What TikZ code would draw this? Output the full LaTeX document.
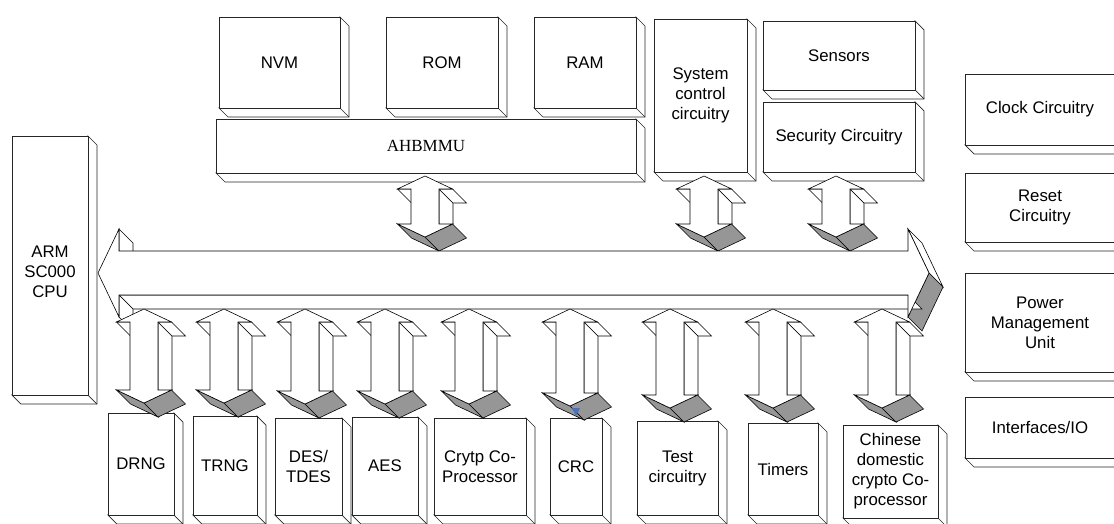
\documentclass[tikz,border=0pt]{standalone}
\usepackage{fontspec}
\setmainfont{Liberation Sans}
\newfontfamily\busfont{Liberation Serif}
\usetikzlibrary{positioning}
\usetikzlibrary{calc}

\definecolor{facegray}{RGB}{150,150,150}
\definecolor{markblue}{RGB}{68,114,196}

\tikzset{
  boxline/.style={draw=black!85, line width=0.7pt, fill=white, line join=miter},
  boxface/.style={boxline, inner sep=0pt, outer sep=0pt, align=center,
    font=\fontsize{16.8}{20}\selectfont},
  boxtext/.style={inner sep=0pt, align=center, font=\fontsize{16.8}{20}\selectfont},
  arrowline/.style={draw=black, line width=0.6pt, line join=miter},
}

% 3D block: name, left, top, right, bottom, text
\newcommand{\unitbox}[6]{%
  \draw[boxline] (#4,#3) -- ++(9,9) -- ({#4+9},{#5+9}) -- ({#2+9},{#5+9}) -- (#2,#5) -- (#4,#5) -- cycle;
  \draw[boxline] (#4,#5) -- ++(9,9);
  \node[boxface, minimum width={(#4-#2)*1pt}, minimum height={(#5-#3)*1pt}] (#1) at ({(#2+#4)/2},{(#3+#5)/2}) {#6};
}

% 3D up/down block arrow: centre x, top tip, bottom tip
\newcommand{\dblarrow}[3]{%
  \draw[arrowline, fill=white] ({#1+14},{#2+13}) -- ({#1+14},{#3-13}) -- ({#1+28},{#3+1}) -- ({#1+28},{#2+27}) -- cycle;
  \draw[arrowline, fill=white] ({#1+14},{#2+13}) -- ({#1+27.5},{#2+13}) -- ({#1+41.5},{#2+27}) -- ({#1+28},{#2+27}) -- cycle;
  \draw[arrowline, fill=white] ({#1-27.5},{#2+13}) -- ({#1-14},{#2+13}) -- (#1,{#2+27}) -- ({#1-13.5},{#2+27}) -- cycle;
  \draw[arrowline, fill=facegray] ({#1-27.5},{#3-13}) -- (#1,#3) -- ({#1+14},{#3+14}) -- ({#1-13.5},{#3+1}) -- cycle;
  \draw[arrowline, fill=facegray] ({#1+27.5},{#3-13}) -- (#1,#3) -- ({#1+14},{#3+14}) -- ({#1+41.5},{#3+1}) -- cycle;
  \draw[arrowline, fill=white] (#1,#2) -- ++(27.5,13) -- ++(-13.5,0) -- ({#1+14},{#3-13}) -- ++(13.5,0)
    -- (#1,#3) -- ++(-27.5,-13) -- ++(13.5,0) -- ({#1-14},{#2+13}) -- ++(-13.5,0) -- cycle;
}

\begin{document}
\begin{tikzpicture}[x=1pt, y=-1pt]
  \useasboundingbox (0,0) rectangle (1114,523);
  \fill[white] (0,0) rectangle (1114,523);

  % memories and AHB
  \unitbox{nvm}{219}{17}{340}{108}{NVM}
  \unitbox{rom}{386}{17}{498}{108}{ROM}
  \unitbox{ram}{534}{17}{636}{108}{RAM}
  \unitbox{ahb}{216}{119}{636}{173}{{\busfont\fontsize{17}{20}\selectfont AHBMMU}}
  \unitbox{sysctl}{654}{19}{747}{172}{System\\control\\circuitry}
  \unitbox{sensors}{763}{21}{915}{90}{Sensors}
  \unitbox{security}{763}{102}{915}{172}{Security Circuitry}

  % right column
  \unitbox{clock}{965}{74}{1115}{145}{Clock Circuitry}
  \unitbox{reset}{965}{173}{1115}{242}{Reset\\Circuitry}
  \unitbox{power}{965}{273}{1115}{372}{Power\\Management\\Unit}
  \unitbox{io}{965}{397}{1115}{458}{Interfaces/IO}

  % CPU
  \unitbox{cpu}{12}{136}{88}{395}{}
  \node[boxtext, below=-20pt of cpu.center] (cpulabel) {ARM\\SC000\\CPU};

  % peripherals
  \unitbox{drng}{108}{413}{174}{515}{DRNG}
  \unitbox{trng}{193}{416}{257}{515}{TRNG}
  \unitbox{des}{275}{418}{342}{515}{DES/\\TDES}
  \unitbox{aes}{352}{417}{418}{515}{AES}
  \unitbox{copro}{434}{418}{526}{515}{Crytp Co-\\Processor}
  \unitbox{crc}{550}{418}{602}{515}{CRC}
  \unitbox{test}{637}{421}{718}{515}{Test\\circuitry}
  \unitbox{timers}{748}{423}{818}{515}{Timers}
  \unitbox{gmcopro}{843}{425}{938}{518}{Chinese\\domestic\\crypto Co-\\processor}

  % links to AHB and control blocks
  \dblarrow{425}{176}{237}
  \dblarrow{704}{176}{237}
  \dblarrow{836}{176}{237}

  % system bus
  \draw[arrowline, fill=white] (119,229) -- (133,243) -- (133,265) -- (119,251) -- cycle;
  \draw[arrowline, fill=white] (908,229) -- (922,243) -- (943,287) -- (929,273) -- cycle;
  \draw[arrowline, fill=facegray] (929,273) -- (943,287) -- (922,331) -- (908,317) -- cycle;
  \draw[arrowline, fill=white] (119,295) -- (908,295) -- (922,309) -- (133,309) -- cycle;
  \draw[arrowline, fill=white] (119,295) -- (119,317) -- (133,331) -- (133,309) -- cycle;
  \draw[arrowline, fill=white] (98,273) -- (119,229) -- (119,251) -- (908,251) -- (908,229) -- (929,273)
    -- (908,317) -- (908,295) -- (119,295) -- (119,317) -- cycle;

  % links to peripherals
  \dblarrow{144}{309}{403}
  \dblarrow{224}{309}{403}
  \dblarrow{305}{309}{404}
  \dblarrow{385}{309}{404}
  \dblarrow{469}{309}{404}
  \dblarrow{570}{309}{406}
  \dblarrow{670}{309}{408}
  \dblarrow{773}{309}{408}
  \dblarrow{882}{309}{408}

  \fill[markblue] (572,408) -- (580,408) -- (576,416) -- cycle;
\end{tikzpicture}
\end{document}
